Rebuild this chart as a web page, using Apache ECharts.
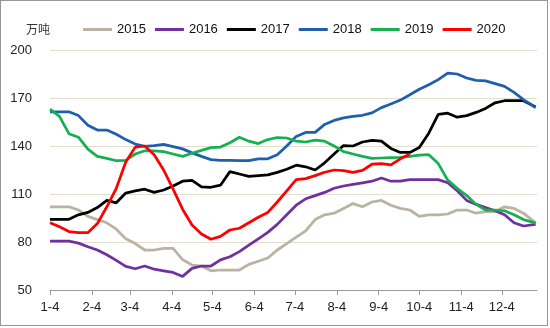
<!DOCTYPE html>
<html>
<head>
<meta charset="utf-8">
<script src="https://cdn.jsdelivr.net/npm/echarts@6/dist/echarts.min.js"></script>
<style>
  html, body { margin: 0; padding: 0; background: #fff; }
  #wrap { position: relative; width: 550px; height: 328px; }
  #chart { position: absolute; left: 0; top: 0; width: 550px; height: 328px; }
  #frame { position: absolute; left: 0; top: 0; width: 548px; height: 326px;
           box-sizing: border-box; border: 1px solid #969696; pointer-events: none; }
</style>
</head>
<body>
<div id="wrap">
  <div id="chart"></div>
  <div id="frame"></div>
</div>
<script>
// Weekly sampling, in days counted from 4 January
const weekDays = [0, 7, 14, 21, 28, 35, 42, 49, 56, 63, 70, 77, 84, 91, 98, 105, 112, 119, 126,
  133, 140, 147, 154, 161, 168, 175, 182, 189, 196, 203, 210, 217, 224, 231, 238, 245, 252,
  259, 266, 273, 280, 287, 294, 301, 308, 315, 322, 329, 336, 343, 350, 359];

// Month ticks on the 4th of each month (days from 4 January)
const monthTickDays = [0, 31, 59, 90, 120, 151, 181, 212, 243, 273, 304, 334];
const monthTickLabels = ['1-4', '2-4', '3-4', '4-4', '5-4', '6-4', '7-4', '8-4', '9-4', '10-4', '11-4', '12-4'];

const seriesNames = ['2015', '2016', '2017', '2018', '2019', '2020'];

// Inventory, 万吨
const v2015 = [102, 102, 102, 100, 96, 94, 92, 88, 82, 79,
  75, 75, 76, 76, 69, 65.6, 65, 62, 62.5, 62.5,
  62.5, 66, 68, 70, 75, 79, 83, 87, 94, 97,
  98, 101, 104, 102, 105, 106, 103, 101, 100, 96,
  97, 97, 97.5, 100, 100, 98, 99, 99, 102, 101,
  98, 92];
const v2016 = [80.5, 80.5, 80.5, 79.3, 77, 75, 72, 68.5, 64.8, 63.3,
  65, 63, 62, 61, 58.5, 63.5, 65, 65, 68.8, 70.8,
  74, 78, 82, 86, 91, 97, 103, 107, 109, 111,
  113.6, 115, 116, 117, 118, 120, 118, 118, 119, 119,
  119, 119, 117, 112, 106, 103.5, 101.5, 99.5, 97, 92,
  90, 91];
const v2017 = [94.2, 94.2, 94.2, 97, 98.5, 101.5, 106, 104.5, 110.6, 112,
  113, 111, 112.5, 115, 118, 118.5, 114.5, 114.2, 115.5, 124,
  122.5, 121, 121.5, 122, 123.5, 125.5, 128, 127, 125, 129.5,
  135, 140.3, 140, 142.5, 143.5, 143, 138.5, 136, 136, 139,
  148, 159.7, 160.5, 158, 159, 161, 163.5, 167, 168.3, 168.3,
  168.3, 164.4];
const v2018 = [161.4, 161.4, 161.4, 159, 153, 150, 150, 147.3, 144, 141.2,
  139.8, 140.3, 141, 139.6, 138.2, 135.7, 133.5, 131.5, 131, 131,
  130.8, 130.8, 132, 132, 134.5, 140, 146, 148.5, 148.5, 153.5,
  156, 157.6, 158.5, 159.2, 160.7, 164, 166.3, 168.7, 172, 175.5,
  178.3, 181.5, 185.5, 185, 182.5, 181, 180.7, 179, 177.3, 173.5,
  169, 164];
const v2019 = [163, 158.5, 147.7, 145.5, 138, 133.5, 132.3, 130.8, 131, 135,
  137, 137, 136.5, 135, 133.5, 135.5, 137.3, 139, 139.3, 142,
  145.5, 143, 141.5, 144, 145.3, 145, 143, 142.5, 143.7, 143,
  140, 136.5, 135, 133.5, 132.3, 132.5, 132.7, 132.9, 133.5, 134.3,
  134.6, 129, 118.7, 113.5, 109, 103.5, 100, 100, 99.5, 97,
  94, 91.8];
const v2020 = [92, 89.5, 86.5, 85.8, 85.8, 91.5, 102, 113.5, 130, 139.3,
  140, 134.5, 125, 113, 100.5, 90.6, 85, 81.7, 83.5, 87.5,
  88.6, 92, 95.5, 98.5, 105, 112, 119, 119.6, 121.5, 123.6,
  125, 124.6, 123.5, 124.8, 128.6, 129, 128.2, 132, 135];

const yTicks = { min: 50, max: 200, step: 30 };

const seriesValues = [v2015, v2016, v2017, v2018, v2019, v2020];
const seriesColors = ['#bab3a1', '#7030a0', '#000000', '#1f5fad', '#16b050', '#ff0000'];

const chart = echarts.init(document.getElementById('chart'), null, { renderer: 'canvas' });

const textFont = "'Liberation Sans', Arial, sans-serif";

chart.setOption({
  animation: false,
  backgroundColor: '#ffffff',
  title: {
    text: '万吨',
    left: 21,
    top: 18,
    textStyle: { fontSize: 12, fontWeight: 'normal', color: '#333', fontFamily: "'Noto Sans CJK SC', sans-serif" }
  },
  legend: {
    data: seriesNames,
    left: 78,
    top: 18,
    icon: 'rect',
    itemWidth: 29,
    itemHeight: 3,
    itemGap: 9,
    textStyle: { fontSize: 13, color: '#111', fontFamily: textFont }
  },
  grid: { left: 50, right: 13, top: 50, bottom: 38, containLabel: false },
  xAxis: {
    type: 'value',
    min: 0,
    max: 360,
    splitLine: { show: false },
    axisLine: { show: true, lineStyle: { color: '#9a9a9a', width: 1 } },
    axisTick: { show: true, customValues: monthTickDays, length: 5, lineStyle: { color: '#9a9a9a' } },
    axisLabel: {
      customValues: monthTickDays,
      margin: 11,
      fontSize: 13,
      color: '#222',
      fontFamily: textFont,
      formatter: function (v) {
        const i = monthTickDays.indexOf(v);
        return i >= 0 ? monthTickLabels[i] : '';
      }
    }
  },
  yAxis: {
    type: 'value',
    min: yTicks.min,
    max: yTicks.max,
    interval: yTicks.step,
    axisLine: { show: false },
    axisTick: { show: false },
    splitLine: { show: true, lineStyle: { color: '#e4decf', width: 1 } },
    axisLabel: { margin: 18, fontSize: 13, color: '#222', fontFamily: textFont }
  },
  series: seriesNames.map(function (name, k) {
    return {
      name: name,
      type: 'line',
      symbol: 'none',
      smooth: false,
      color: seriesColors[k],
      lineStyle: { width: 2.75, color: seriesColors[k] },
      data: seriesValues[k].map(function (v, i) { return [weekDays[i], v]; })
    };
  })
});
</script>
</body>
</html>
